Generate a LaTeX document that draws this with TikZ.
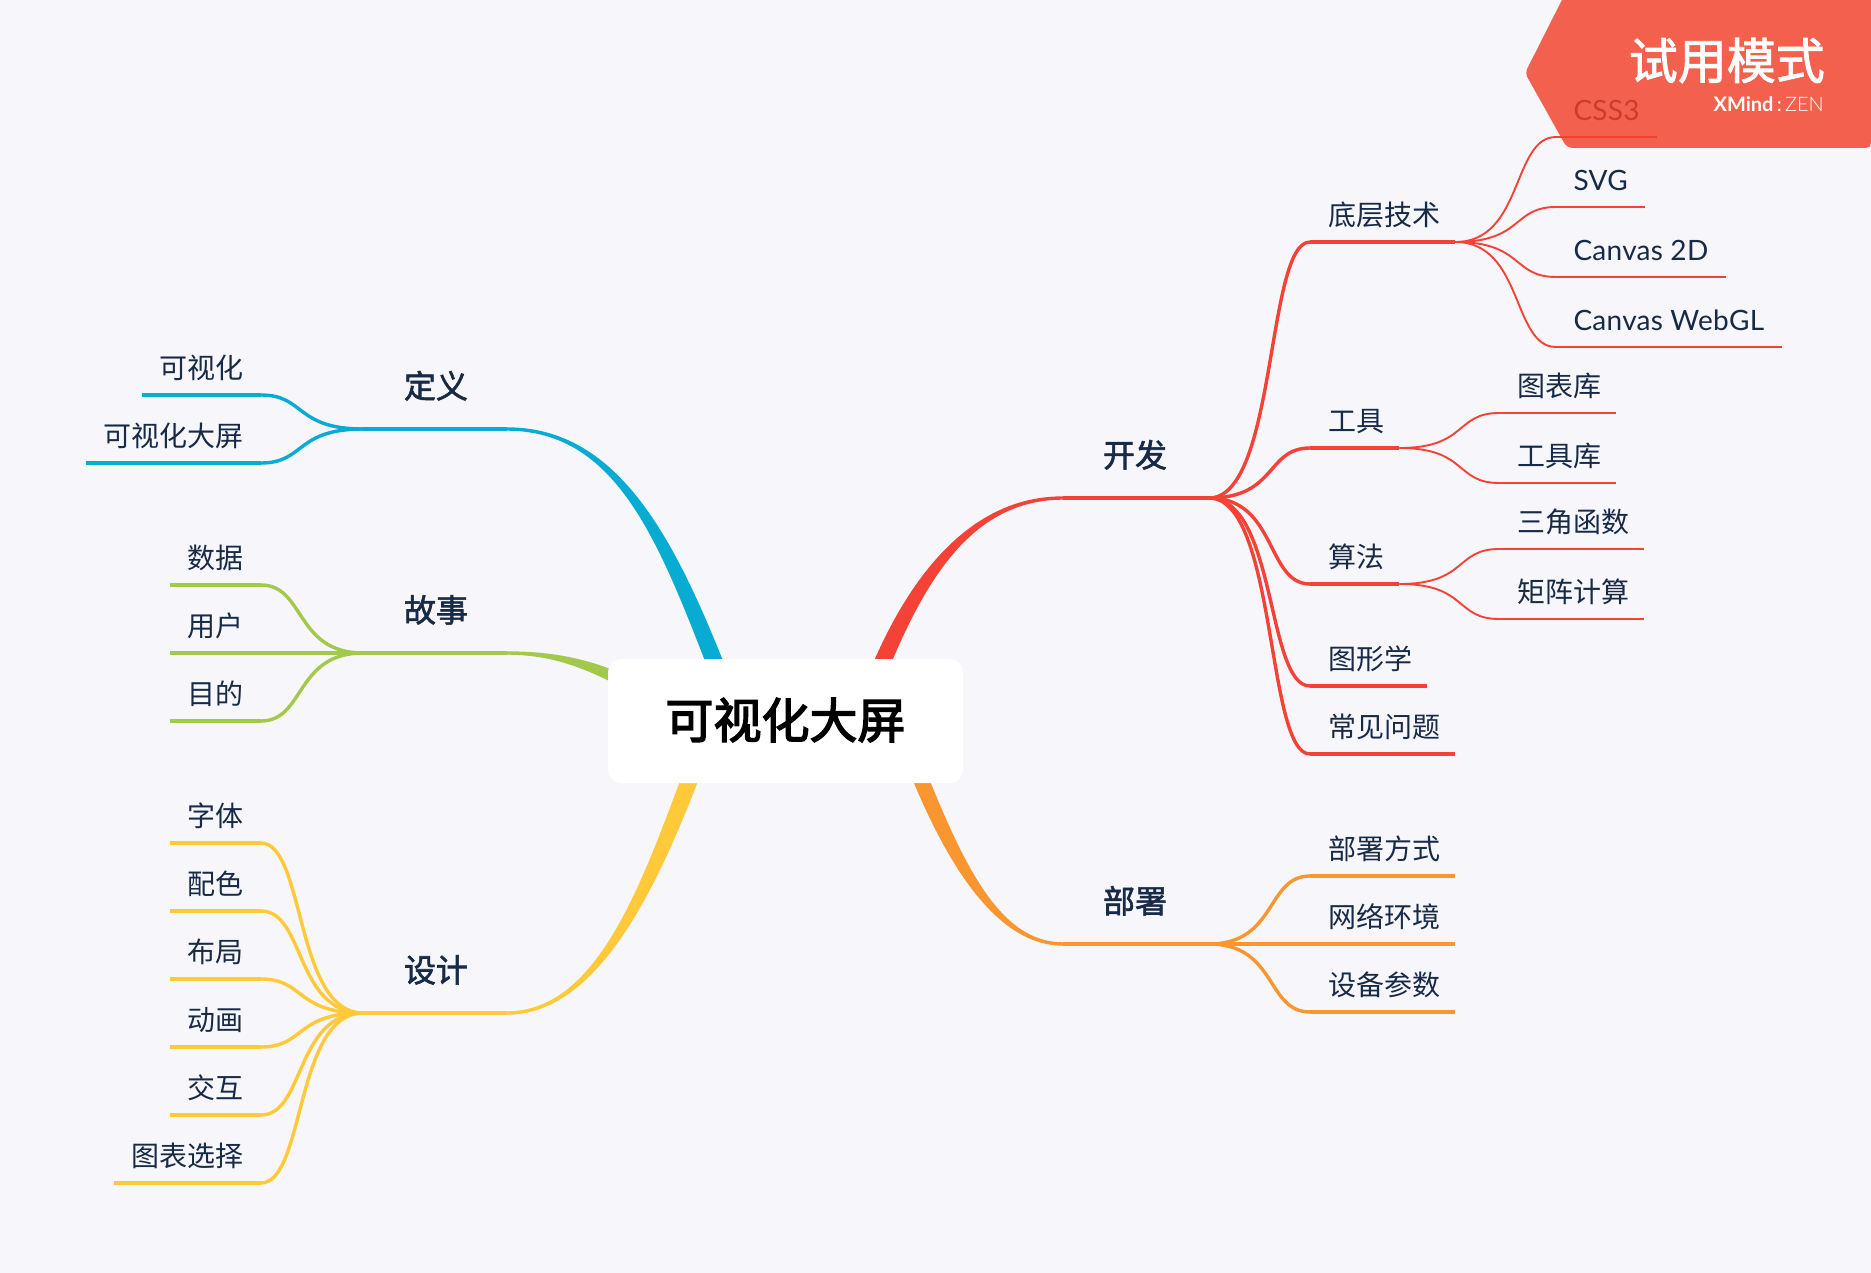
\documentclass[tikz,border=0pt]{standalone}
\usepackage{fontspec}
\setmainfont{Lato}
\newfontfamily\cjk{Noto Sans CJK SC}
\newfontfamily\cjkmid[FakeBold=1.8]{Noto Sans CJK SC}
\newfontfamily\cjkroot[FakeBold=3]{Noto Sans CJK SC}
\newfontfamily\latolight{Lato Light}
\newfontfamily\latospaced[LetterSpace=1]{Lato}
\usetikzlibrary{calc,backgrounds}
\definecolor{pagebg}{HTML}{F6F6FB}
\definecolor{inkblue}{HTML}{172A46}
\definecolor{redline}{HTML}{F44336}
\definecolor{blueline}{HTML}{08ACD3}
\definecolor{greenline}{HTML}{A2C94A}
\definecolor{yellowline}{HTML}{FFC93A}
\definecolor{orangeline}{HTML}{F9962F}
\definecolor{badgered}{HTML}{F3412A}
\tikzset{
  topic/.style={inner ysep=0pt,outer sep=0pt,text=inkblue,text height=24pt,text depth=31pt,font=\fontsize{32}{32}\cjkmid},
  lefttopic/.style={topic,anchor=south east,inner xsep=39pt,execute at begin node=\hspace*{2pt}},
  righttopic/.style={topic,anchor=south west,inner xsep=40pt,execute at end node=\hspace*{2pt}},
  leaf/.style={inner ysep=0pt,outer sep=0pt,text=inkblue,text height=24pt,text depth=16.6pt,font=\fontsize{28}{28}\cjk},
  rightleaf/.style={leaf,anchor=south west,inner xsep=14.9pt,execute at begin node=\hspace*{3.6pt}},
  leftleaf/.style={leaf,anchor=south east,inner xsep=17.3pt},
  wordleaf/.style={leaf,anchor=south west,inner xsep=14pt,font=\fontsize{28}{28}\latospaced,execute at begin node=\hspace*{3.5pt},execute at end node=\hspace*{3.5pt}},
  thick line/.style={line width=3.4pt},
  thin line/.style={line width=1.9pt}
}
% curve from one underline to the next
\newcommand{\rlink}[3]{\draw[#1] (#2.south east) .. controls +(68,0) and +(-44,0) .. (#3.south west);}
\newcommand{\llink}[3]{\draw[#1] (#2.south west) .. controls +(-68,0) and +(44,0) .. (#3.south east);}
\newcommand{\branch}[6]{\fill[#1] ($(#2)+(0,-1.7)$) .. controls ($(#3)+(0,-1.7)$) and ($(#4)-(#6)$) .. ($(#5)-(#6)$) -- ($(#5)+(#6)$) .. controls ($(#4)+(#6)$) and ($(#3)+(0,1.7)$) .. ($(#2)+(0,1.7)$) -- cycle;}
\begin{document}
\begin{tikzpicture}[x=1pt,y=-1pt]
  \useasboundingbox (0,0) rectangle (1871,1273);
  \node[fill=white,rounded corners=13pt,minimum width=355pt,minimum height=124pt,inner sep=0pt,text=black,text height=40.4pt,text depth=6pt,font=\fontsize{48}{48}\cjkroot] (root) at (785.5,721) {可视化大屏};

  % main topics
  \node[lefttopic] (define) at (507,429) {定义};
  \node[lefttopic] (story) at (507,653) {故事};
  \node[lefttopic] (design) at (507,1013) {设计};
  \node[righttopic] (develop) at (1063,498) {开发};
  \node[righttopic] (deploy) at (1063,944) {部署};

  \begin{scope}[on background layer]
    \fill[pagebg] (0,0) rectangle (1871,1273);
    \branch{blueline}{define.south east}{620,429}{669,545}{723,684}{-7.9,3.1}
    \branch{greenline}{story.south east}{560,653}{600,668}{640,690}{-2.5,6}
    \branch{yellowline}{design.south east}{600,1013}{652,880}{698,757}{8,3}
    \branch{redline}{develop.south west}{970,498}{914,580}{872,688}{7.9,3.1}
    \branch{orangeline}{deploy.south west}{1000,944}{956,870}{912,757}{-7.4,2.9}
  \end{scope}
  \foreach \topicname/\col in {define/blueline,story/greenline,design/yellowline,develop/redline,deploy/orangeline}
    \draw[\col,line width=3.4pt] (\topicname.south west) -- (\topicname.south east);

  % left side
  \foreach \n/\y/\txt in {vis/395/可视化,visscreen/463/可视化大屏}{
    \node[leftleaf] (\n) at (261,\y) {\txt};
    \draw[blueline,thick line] (\n.south west) -- (\n.south east);
    \llink{blueline,thick line}{define}{\n}
  }
  \foreach \n/\y/\txt in {data/585/数据,user/653/用户,goal/721/目的}{
    \node[leftleaf] (\n) at (261,\y) {\txt};
    \draw[greenline,thick line] (\n.south west) -- (\n.south east);
    \llink{greenline,thick line}{story}{\n}
  }
  \foreach \n/\y/\txt in {typeface/843/字体,palette/911/配色,layout/979/布局,motion/1047/动画,interact/1115/交互,chart/1183/图表选择}{
    \node[leftleaf] (\n) at (261,\y) {\txt};
    \draw[yellowline,thick line] (\n.south west) -- (\n.south east);
    \llink{yellowline,thick line}{design}{\n}
  }

  % right side
  \foreach \n/\y/\txt in {base/242/底层技术,tools/448/工具,algo/584/算法,graphics/686/图形学,faq/754/常见问题}{
    \node[rightleaf] (\n) at (1310,\y) {\txt};
    \draw[redline,thick line] (\n.south west) -- (\n.south east);
    \rlink{redline,thick line}{develop}{\n}
  }
  \foreach \n/\y/\txt in {method/876/部署方式,network/944/网络环境,device/1012/设备参数}{
    \node[rightleaf] (\n) at (1310,\y) {\txt};
    \draw[orangeline,thick line] (\n.south west) -- (\n.south east);
    \rlink{orangeline,thick line}{deploy}{\n}
  }
  \foreach \n/\y/\txt in {css/137/CSS3,svg/207/SVG,canvas/277/Canvas 2D,webgl/347/Canvas WebGL}{
    \node[wordleaf] (\n) at (1556,\y) {\txt};
    \draw[redline,thin line] (\n.south west) -- (\n.south east);
    \rlink{redline,thin line}{base}{\n}
  }
  \foreach \n/\p/\y/\txt in {chartlib/tools/413/图表库,toollib/tools/483/工具库,trig/algo/549/三角函数,matrix/algo/619/矩阵计算}{
    \node[rightleaf] (\n) at (1499,\y) {\txt};
    \draw[redline,thin line] (\n.south west) -- (\n.south east);
    \rlink{redline,thin line}{\p}{\n}
  }

  % trial badge
  \fill[badgered,fill opacity=.825,rounded corners=5pt] (1567,-10) -- (1525,73) -- (1567,148) -- (1871,148) -- (1871,-10) -- cycle;
  \node[anchor=east,text=white,inner sep=0pt,font=\fontsize{49}{49}\cjkmid] (trial) at (1825,60.5) {试用模式};
  \node[anchor=east,text=white,inner sep=0pt,font=\fontsize{20}{20}\selectfont] (brand) at (1824,104) {\textbf{XMind}\,:\,{\latolight ZEN}};
\end{tikzpicture}
\end{document}
